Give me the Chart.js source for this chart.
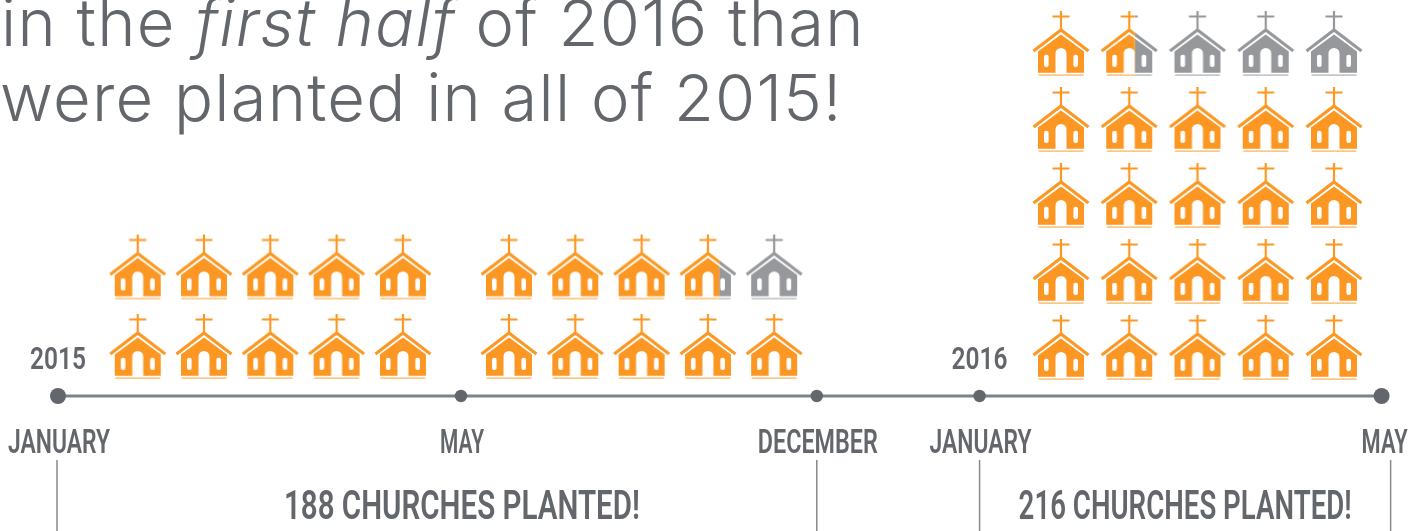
<!DOCTYPE html>
<html>
<head>
<meta charset="utf-8">
<title>Churches planted</title>
<script src="https://cdn.jsdelivr.net/npm/chart.js@4"></script>
<style>
  html, body { margin: 0; background: #fff; overflow: hidden; }
  #wrap { width: 1425px; height: 531px; }
</style>
</head>
<body>
<div id="wrap"><canvas id="churchChart" width="1425" height="531"></canvas></div>
<script>
// headline, broken in runs so "first half" can go italic
const headlineLine1 = [['in the ', false], ['first half', true], [' of 2016 than', false]];
const headlineLine2 = [['were planted in all of 2015!', false]];

// timeline stops (months along the line as it is drawn, the source is not to scale)
const stopLabels = ['JANUARY', 'MAY', 'DECEMBER', 'JANUARY', 'MAY'];
const stopMonths = [0, 4.01, 7.55, 9.17, 13.17];
const bracketMonths = [[-0.01, 7.55], [9.17, 13.26]];
const periodLabels = ['188 CHURCHES PLANTED!', '216 CHURCHES PLANTED!'];
const yearLabels = ['2015', '2016'];

// one icon = 10 churches, 1 = all orange, 0 = all grey
const columns2015 = [0, 1, 2, 3, 4, 5.6, 6.6, 7.6, 8.6, 9.6];
const fill2015 = [
  [1, 1, 1, 1, 1, 1, 1, 1, 1, 1],
  [1, 1, 1, 1, 1, 1, 1, 1, 0.7, 0]
];
const columns2016 = [0, 1, 2, 3, 4];
const fill2016 = [
  [1, 1, 1, 1, 1],
  [1, 1, 1, 1, 1],
  [1, 1, 1, 1, 1],
  [1, 1, 1, 1, 1],
  [1, 0.6, 0, 0, 0]
];

const ORANGE = '#fb9722';
const GREY = '#96989b';
const INK = '#63676b';
const W = 1425, H = 531;

// hidden axes: value 0 sits at px0, one unit is `unit` pixels
function xRange(px0, unit) { return { min: -px0 / unit, max: (W - px0) / unit }; }
function yRange(px0, unit) { return { min: (px0 - H) / unit, max: px0 / unit }; }

function paintChurch(c, color) {
  c.strokeStyle = color;
  c.fillStyle = color;
  // cross
  c.lineWidth = 2.2;
  c.beginPath();
  c.moveTo(0, -33); c.lineTo(0, -13);
  c.moveTo(-8.5, -27.5); c.lineTo(8.5, -27.5);
  c.stroke();
  // roof
  c.lineWidth = 3;
  c.beginPath();
  c.moveTo(-27.5, 7); c.lineTo(0, -14); c.lineTo(27.5, 7);
  c.stroke();
  // body
  c.beginPath();
  c.moveTo(0, -9.5); c.lineTo(23, 7.5); c.lineTo(23, 28.7); c.lineTo(-23, 28.7); c.lineTo(-23, 7.5);
  c.closePath();
  c.fill();
  // door and windows are cut out
  c.save();
  c.globalCompositeOperation = 'destination-out';
  c.beginPath();
  c.arc(0, 9.5, 5.5, Math.PI, 0);
  c.lineTo(5.5, 29); c.lineTo(-5.5, 29);
  c.closePath();
  c.fill();
  [-14.7, 14.7].forEach(wx => {
    c.beginPath();
    c.roundRect(wx - 2.3, 10.7, 4.6, 12.4, 2);
    c.fill();
  });
  c.restore();
  // ground line
  c.globalAlpha = 0.55;
  c.fillRect(-22.5, 30.3, 45, 1.7);
  c.globalAlpha = 1;
}

const iconCache = {};
function iconFor(fill) {
  if (iconCache[fill]) return iconCache[fill];
  const cv = document.createElement('canvas');
  cv.width = 64; cv.height = 68;
  const c = cv.getContext('2d');
  c.translate(32, 34);
  paintChurch(c, GREY);
  if (fill > 0) {
    c.save();
    c.beginPath();
    c.rect(-32, -34, 4 + 56 * fill, 68);
    c.clip();
    c.clearRect(-32, -34, 64, 68);
    paintChurch(c, ORANGE);
    c.restore();
  }
  iconCache[fill] = cv;
  return cv;
}

function iconPoints(columns, rows) {
  const pts = [];
  rows.forEach((row, r) => row.forEach((f, i) => pts.push({ x: columns[i], y: r, fill: f })));
  return pts;
}

function iconDataset(columns, rows, xAxisID, yAxisID) {
  return {
    type: 'scatter',
    data: iconPoints(columns, rows),
    xAxisID, yAxisID,
    pointStyle: ctx => iconFor(ctx.raw.fill),
    pointRadius: 10,
    clip: false
  };
}

// text drawn at the axis positions, squeezed to the condensed look of the source
function drawFitted(c, text, x, y, font, width, align) {
  c.font = font;
  c.textAlign = align || 'center';
  c.textBaseline = 'alphabetic';
  c.fillStyle = INK;
  c.fillText(text, x, y, width);
}

function headlineFont(italic, size) {
  return (italic ? 'italic ' : '') + '300 ' + size + 'px Inter, Lato, sans-serif';
}

function drawHeadline(c, runs, x, y, size, spacing) {
  c.fillStyle = INK;
  c.textAlign = 'left';
  c.textBaseline = 'alphabetic';
  c.letterSpacing = spacing + 'px';
  let cx = x;
  runs.forEach(([txt, italic]) => {
    c.font = headlineFont(italic, size);
    c.fillText(txt, cx, y);
    cx += c.measureText(txt).width;
  });
  c.letterSpacing = '0px';
}

const labelsPlugin = {
  id: 'labels',
  afterDatasetsDraw(chart) {
    const c = chart.ctx;
    const xt = chart.scales.xTime;
    const f = 'px Roboto, "Liberation Sans", sans-serif';
    c.save();
    drawHeadline(c, headlineLine1, 1, 46, 65, 1.3);
    drawHeadline(c, headlineLine2, 0, 121, 65, 1.25);

    const stopWidths = [102, 44, 120, 102, 46];
    stopLabels.forEach((t, i) => {
      drawFitted(c, t, xt.getPixelForValue(stopMonths[i]) + (i === 4 ? 3 : 1), 453, '600 33' + f, stopWidths[i]);
    });
    drawFitted(c, yearLabels[0], xt.getPixelForValue(stopMonths[0]), 369, '600 32' + f, 56);
    drawFitted(c, yearLabels[1], xt.getPixelForValue(stopMonths[3]), 369, '600 32' + f, 56);
    bracketMonths.forEach((b, i) => {
      const mid = (xt.getPixelForValue(b[0]) + xt.getPixelForValue(b[1])) / 2;
      drawFitted(c, periodLabels[i], mid + (i === 0 ? 25 : 0), 519, '600 40' + f, i === 0 ? 356 : 333);
    });
    c.restore();
  }
};

const timeline = stopMonths.map(m => ({ x: m, y: 0 }));
const datasets = [
  iconDataset(columns2015, fill2015, 'xIcons15', 'yIcons15'),
  iconDataset(columns2016, fill2016, 'xIcons16', 'yIcons16'),
  {
    type: 'scatter',
    data: timeline,
    xAxisID: 'xTime', yAxisID: 'yTime',
    showLine: true,
    borderColor: '#7d8287',
    borderWidth: 3,
    backgroundColor: INK,
    pointBackgroundColor: INK,
    pointBorderWidth: 0,
    pointRadius: [8, 6.2, 6.2, 6.2, 8]
  }
];
// drop lines under the timeline that bracket each period
bracketMonths.flat().forEach(m => {
  datasets.push({
    type: 'scatter',
    data: [{ x: m, y: -64 }, { x: m, y: -135 }],
    xAxisID: 'xTime', yAxisID: 'yTime',
    showLine: true,
    borderColor: '#85898e',
    borderWidth: 1.5,
    pointRadius: 0
  });
});

function hiddenAxis(range) {
  return { type: 'linear', display: false, min: range.min, max: range.max };
}

new Chart(document.getElementById('churchChart').getContext('2d'), {
  data: { datasets },
  options: {
    responsive: false,
    animation: false,
    events: [],
    layout: { padding: 0, autoPadding: false },
    plugins: { legend: { display: false }, tooltip: { enabled: false }, title: { display: false } },
    scales: {
      xTime: hiddenAxis(xRange(58, 100.5)),
      yTime: hiddenAxis(yRange(396, 1)),
      xIcons15: hiddenAxis(xRange(137.7, 66.3)),
      yIcons15: hiddenAxis(yRange(347, 79.5)),
      xIcons16: hiddenAxis(xRange(1061, 68.25)),
      yIcons16: hiddenAxis(yRange(348, 76))
    }
  },
  plugins: [labelsPlugin]
});
</script>
</body>
</html>
